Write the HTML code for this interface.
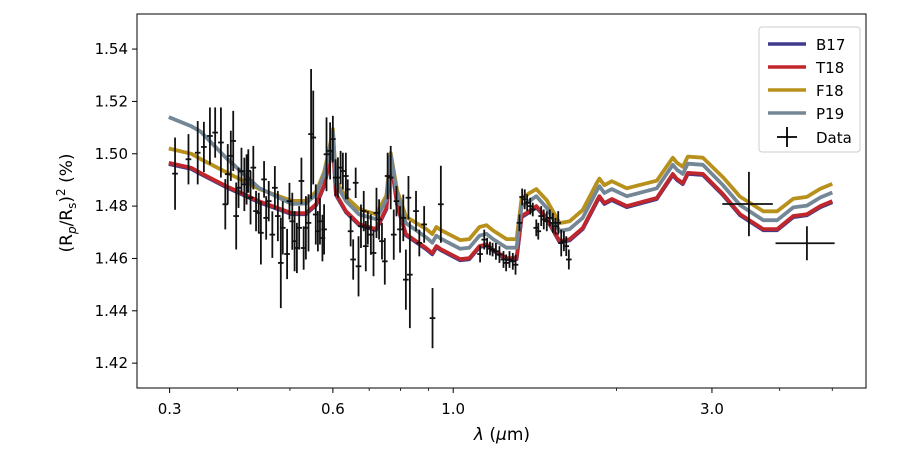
<!DOCTYPE html>
<html><head><meta charset="utf-8"><style>
html,body{margin:0;padding:0;background:#fff}
svg{display:block;font-family:"DejaVu Sans","Liberation Sans",sans-serif}
</style></head><body>
<svg id="chart" width="913" height="457" viewBox="0 0 913 457" xmlns="http://www.w3.org/2000/svg">
<rect x="137" y="14" width="729" height="374" fill="#fff" stroke="none"/>
<g id="marks"></g>
<g id="axes"></g>
<rect x="137" y="14" width="729" height="374" fill="none" stroke="#000" stroke-width="1"/>
<text x="502" y="440" text-anchor="middle" font-size="17"><tspan font-style="italic">λ</tspan> (<tspan font-style="italic">μ</tspan>m)</text>
<text transform="translate(72,203) rotate(-90)" text-anchor="middle" font-size="17">(R<tspan font-size="12" dy="4"><tspan font-style="italic">p</tspan></tspan><tspan dy="-4">/R</tspan><tspan font-size="12" dy="4">s</tspan><tspan dy="-4">)</tspan><tspan font-size="12" dy="-7">2</tspan><tspan dy="7"> (%)</tspan></text>
<g>
<rect x="759" y="27" width="101" height="125" rx="3" fill="#fff" fill-opacity="0.85" stroke="#ccc"/>
<g><line x1="768" y1="44" x2="806" y2="44" stroke="#3f3a8c" stroke-width="3.5"/><text x="816" y="50" font-size="15">B17</text></g>
<g><line x1="768" y1="67" x2="806" y2="67" stroke="#c0272d" stroke-width="3.5"/><text x="816" y="73" font-size="15">T18</text></g>
<g><line x1="768" y1="90" x2="806" y2="90" stroke="#b8901c" stroke-width="3.5"/><text x="816" y="96" font-size="15">F18</text></g>
<g><line x1="768" y1="113" x2="806" y2="113" stroke="#748796" stroke-width="3.5"/><text x="816" y="119" font-size="15">P19</text></g>
<g><line x1="777" y1="137" x2="797" y2="137" stroke="#000" stroke-width="1.8"/><line x1="787" y1="127" x2="787" y2="147" stroke="#000" stroke-width="1.8"/><text x="816" y="143" font-size="15">Data</text></g>
</g>
</svg>
<script>
const lam=[0.299,0.329,0.342,0.381,0.438,0.504,0.535,0.559,0.578,0.590,0.600,0.608,0.634,0.671,0.721,0.753,0.767,0.788,0.818,0.892,0.915,0.931,0.950,1.03,1.071,1.118,1.152,1.182,1.254,1.309,1.337,1.383,1.423,1.488,1.571,1.639,1.733,1.839,1.86,1.90,1.961,2.090,2.374,2.541,2.585,2.651,2.708,2.887,3.144,3.381,3.73,3.958,4.237,4.49,4.752,5.0];
const t18=[1.4965,1.4946,1.4927,1.4877,1.4819,1.4773,1.4773,1.4808,1.4880,1.4960,1.5040,1.4846,1.4781,1.4731,1.4712,1.4792,1.4984,1.4808,1.4693,1.4639,1.4620,1.4647,1.4635,1.4597,1.4601,1.4647,1.4654,1.4635,1.4601,1.4601,1.4762,1.4781,1.4800,1.4754,1.4666,1.4673,1.4716,1.4819,1.4838,1.4812,1.4827,1.4800,1.4831,1.4923,1.4904,1.4888,1.4927,1.4923,1.4846,1.4769,1.4712,1.4712,1.4762,1.4769,1.4800,1.4819];
const b17=[1.4961,1.4942,1.4923,1.4873,1.4815,1.4769,1.4769,1.4804,1.4876,1.4956,1.5036,1.4842,1.4777,1.4727,1.4708,1.4788,1.4980,1.4804,1.4689,1.4635,1.4616,1.4643,1.4631,1.4593,1.4597,1.4643,1.4650,1.4631,1.4597,1.4597,1.4758,1.4777,1.4796,1.4750,1.4662,1.4669,1.4712,1.4815,1.4834,1.4808,1.4823,1.4796,1.4827,1.4919,1.4900,1.4884,1.4923,1.4919,1.4842,1.4765,1.4708,1.4708,1.4758,1.4765,1.4796,1.4815];
const f18=[1.5020,1.5000,1.4980,1.4930,1.4866,1.4820,1.4820,1.4855,1.4930,1.5010,1.5095,1.4895,1.4835,1.4788,1.4769,1.4840,1.5003,1.4860,1.4760,1.4712,1.4693,1.4720,1.4708,1.4670,1.4674,1.4720,1.4727,1.4708,1.4674,1.4674,1.4830,1.4850,1.4865,1.4822,1.4735,1.4742,1.4785,1.4888,1.4905,1.4880,1.4895,1.4868,1.4897,1.4985,1.4966,1.4950,1.4989,1.4985,1.4910,1.4836,1.4780,1.4780,1.4828,1.4835,1.4866,1.4885];
const p19=[1.5140,1.5105,1.5085,1.4985,1.4870,1.4808,1.4810,1.4845,1.4920,1.5000,1.5085,1.4885,1.4820,1.4768,1.4750,1.4825,1.4995,1.4845,1.4735,1.4680,1.4660,1.4687,1.4675,1.4637,1.4641,1.4687,1.4694,1.4675,1.4641,1.4641,1.4800,1.4820,1.4838,1.4793,1.4705,1.4712,1.4755,1.4858,1.4876,1.4850,1.4865,1.4838,1.4868,1.4958,1.4939,1.4923,1.4962,1.4958,1.4880,1.4804,1.4746,1.4746,1.4795,1.4802,1.4833,1.4852];
const dataLam=[0.307,0.325,0.338,0.347,0.356,0.364,0.373,0.380,0.384,0.389,0.393,0.398,0.402,0.407,0.412,0.416,0.419,0.423,0.428,0.433,0.438,0.442,0.448,0.452,0.457,0.464,0.469,0.475,0.481,0.485,0.494,0.499,0.505,0.510,0.515,0.520,0.525,0.530,0.535,0.541,0.547,0.552,0.558,0.563,0.568,0.574,0.578,0.584,0.593,0.600,0.607,0.613,0.620,0.626,0.634,0.639,0.647,0.654,0.661,0.669,0.676,0.684,0.690,0.696,0.705,0.713,0.722,0.730,0.739,0.748,0.757,0.767,0.777,0.786,0.798,0.809,0.818,0.827,0.832,0.854,0.866,0.884,0.916,0.949,1.121,1.141,1.155,1.169,1.182,1.199,1.217,1.238,1.252,1.270,1.288,1.303,1.325,1.340,1.355,1.369,1.387,1.402,1.423,1.435,1.453,1.469,1.488,1.507,1.527,1.544,1.562,1.582,1.600,1.616,1.634,3.51,4.49];
const dataVal=[1.4924,1.4979,1.5004,1.5026,1.5068,1.5081,1.5043,1.4807,1.4922,1.4992,1.5049,1.4762,1.4870,1.4934,1.4883,1.4902,1.4934,1.4832,1.4947,1.4781,1.4774,1.4698,1.4902,1.4755,1.4819,1.4691,1.4870,1.4762,1.4583,1.4717,1.4617,1.4819,1.4742,1.4666,1.4640,1.4717,1.4896,1.4640,1.4717,1.4736,1.5075,1.5062,1.4768,1.4704,1.4742,1.4678,1.4711,1.4998,1.5011,1.5056,1.4909,1.4909,1.4947,1.4934,1.4915,1.4864,1.4704,1.4596,1.4889,1.4570,1.4723,1.4781,1.4647,1.4717,1.4691,1.4621,1.4774,1.4749,1.4666,1.4589,1.4915,1.4909,1.4691,1.4819,1.4711,1.4755,1.4519,1.4832,1.4538,1.4781,1.4659,1.4730,1.4372,1.4807,1.4617,1.4672,1.4647,1.4638,1.4634,1.4627,1.4615,1.4596,1.4583,1.4596,1.4589,1.4576,1.4736,1.4835,1.4826,1.4813,1.4800,1.4787,1.4717,1.4704,1.4762,1.4749,1.4742,1.4755,1.4736,1.4723,1.4736,1.4659,1.4666,1.4647,1.4596,1.4808,1.4658];
const dataErr=[0.0138,0.0096,0.0121,0.0096,0.0109,0.0096,0.0134,0.0096,0.0115,0.0096,0.0115,0.0128,0.0077,0.0089,0.0102,0.0096,0.0083,0.0102,0.0083,0.0077,0.0077,0.0121,0.0070,0.0083,0.0077,0.0089,0.0083,0.0096,0.0173,0.0102,0.0096,0.0070,0.0109,0.0115,0.0096,0.0083,0.0089,0.0083,0.0121,0.0109,0.0249,0.0179,0.0115,0.0077,0.0089,0.0089,0.0096,0.0141,0.0109,0.0089,0.0070,0.0077,0.0064,0.0070,0.0089,0.0038,0.0058,0.0077,0.0058,0.0115,0.0083,0.0077,0.0096,0.0064,0.0077,0.0089,0.0096,0.0077,0.0070,0.0089,0.0089,0.0121,0.0096,0.0058,0.0089,0.0089,0.0115,0.0083,0.0204,0.0077,0.0051,0.0070,0.0115,0.0147,0.0032,0.0038,0.0032,0.0026,0.0026,0.0032,0.0032,0.0032,0.0032,0.0032,0.0032,0.0038,0.0032,0.0032,0.0038,0.0032,0.0032,0.0026,0.0032,0.0032,0.0038,0.0038,0.0038,0.0032,0.0038,0.0032,0.0045,0.0051,0.0038,0.0038,0.0038,0.0123,0.0065];
const dataXErrSmall=0.006;
const bigXErr=[0.375,0.56];
const yTicks=[1.42,1.44,1.46,1.48,1.50,1.52,1.54];
const yTickLabels=["1.42","1.44","1.46","1.48","1.50","1.52","1.54"];
const xTicks=[0.3,0.6,1.0,3.0];
const xTickLabels=["0.3","0.6","1.0","3.0"];
const xMinor=[0.4,0.5,0.7,0.8,0.9,2.0,4.0,5.0];

const X0=137,X1=866,Y0=388,Y1=14;
const LMIN=0.2612,LMAX=5.77,VMIN=1.4105,VMAX=1.5534;
function xs(l){return X0+(Math.log10(l)-Math.log10(LMIN))/(Math.log10(LMAX)-Math.log10(LMIN))*(X1-X0);}
function ys(v){return Y0-(v-VMIN)/(VMAX-VMIN)*(Y0-Y1);}
const NS="http://www.w3.org/2000/svg";
const marks=document.getElementById('marks'),axes=document.getElementById('axes');
function mk(tag,attrs,parent){const e=document.createElementNS(NS,tag);for(const k in attrs)e.setAttribute(k,attrs[k]);parent.appendChild(e);return e;}

const series=[[b17,'#3f3a8c','line-b17'],[t18,'#c0272d','line-t18'],[f18,'#b8901c','line-f18'],[p19,'#748796','line-p19']];
series.forEach(s=>{
  const d=lam.map((l,i)=>(i?'L':'M')+xs(l).toFixed(1)+','+ys(s[0][i]).toFixed(1)).join(' ');
  const p=mk('path',{d:d,fill:'none',stroke:s[1],'stroke-width':3.8,'stroke-linejoin':'round'},marks);
  
  
});
const dg=mk('g',{stroke:'#111','stroke-width':1.8},marks);


dataLam.forEach((l,i)=>{
  const v=dataVal[i],e=dataErr[i];
  const xe=i>=dataLam.length-2?bigXErr[i-(dataLam.length-2)]:dataXErrSmall*(l/0.5);
  const g=mk('g',{},dg);
  
  
  mk('line',{x1:xs(l),x2:xs(l),y1:ys(v-e),y2:ys(v+e)},g);
  mk('line',{x1:xs(l-xe),x2:xs(l+xe),y1:ys(v),y2:ys(v)},g);
});
yTicks.forEach((t,i)=>{
  const y=ys(t);
  const l=mk('line',{x1:X0-5,x2:X0,y1:y,y2:y,stroke:'#000'},axes);
  
  
  const tx=mk('text',{x:X0-9,y:y+5,'text-anchor':'end','font-size':15},axes);
  tx.textContent=yTickLabels[i];
  
  
});
xTicks.forEach((t,i)=>{
  const x=xs(t);
  const l=mk('line',{x1:x,x2:x,y1:Y0,y2:Y0+5,stroke:'#000'},axes);
  
  
  const tx=mk('text',{x:x,y:Y0+26,'text-anchor':'middle','font-size':15},axes);
  tx.textContent=xTickLabels[i];
  
  
});
xMinor.forEach(t=>{
  const x=xs(t);
  const l=mk('line',{x1:x,x2:x,y1:Y0,y2:Y0+3,stroke:'#000','stroke-width':0.8},axes);
  
  
});
</script>
</body></html>
